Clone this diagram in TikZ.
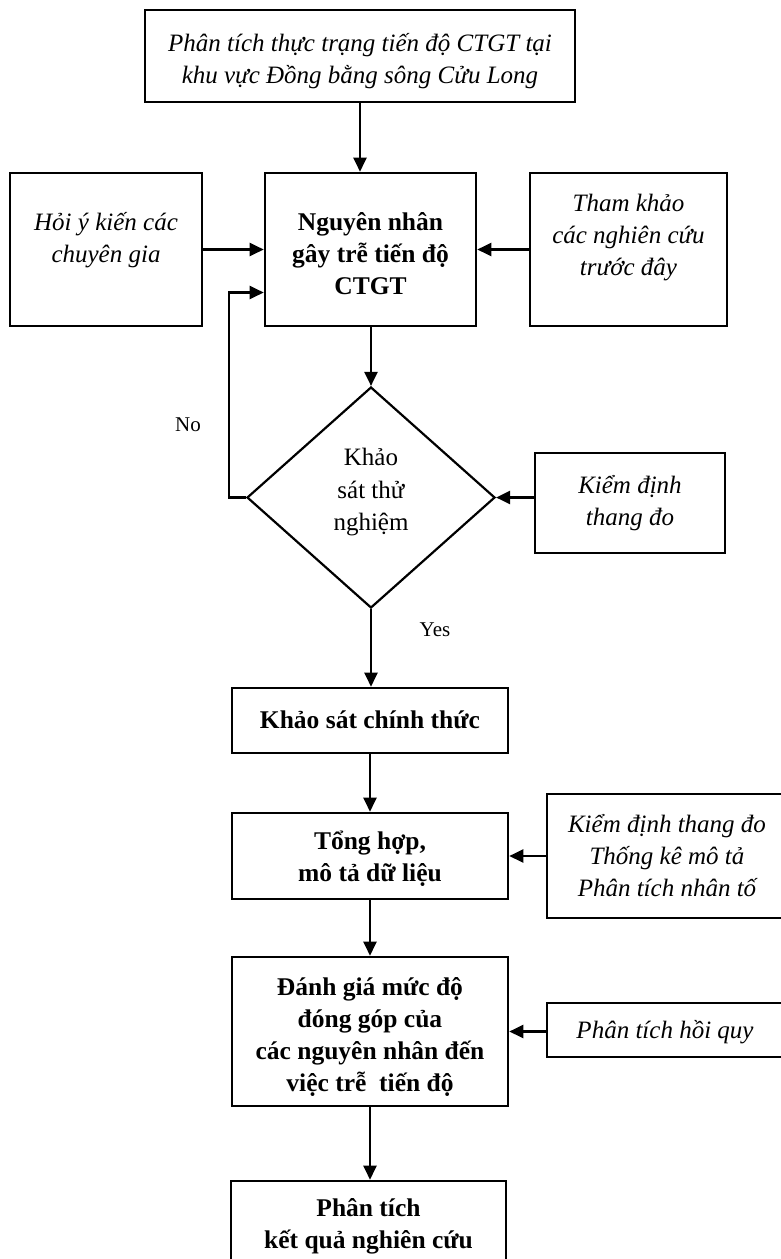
\documentclass[tikz,border=0pt]{standalone}
\usepackage{fontspec}
\setmainfont{Liberation Serif}
\usetikzlibrary{arrows.meta,shapes.geometric,calc}
\begin{document}
\begin{tikzpicture}[x=1pt,y=-1pt,
  box/.style={draw,line width=2.6pt,inner sep=0pt,align=center},
  itxt/.style={font=\fontsize{25}{32}\selectfont\itshape,align=center},
  btxt/.style={font=\fontsize{25.5}{32}\selectfont\bfseries,align=center},
  rtxt/.style={font=\fontsize{25}{32.5}\selectfont},
  arr/.style={line width=2.2pt,-{Triangle[length=14pt,width=13pt]}},
  lbl/.style={font=\fontsize{21}{24}\selectfont,inner sep=0pt}]
\useasboundingbox (0,0) rectangle (781,1259);
\clip (0,0) rectangle (781,1259);
\fill[white] (0,0) rectangle (781,1259);

\node[box,minimum width=430pt,minimum height=92pt,
  label={[itxt,yshift=-5pt]center:Phân tích thực trạng tiến độ CTGT tại\\khu vực Đồng bằng sông Cửu Long}] (top) at (360,56) {};
\node[box,minimum width=192pt,minimum height=153pt,
  label={[itxt,yshift=9pt]center:Hỏi ý kiến các\\chuyên gia}] (exp) at (106,249.5) {};
\node[box,minimum width=211pt,minimum height=153pt,
  label={[btxt,yshift=-4pt]center:Nguyên nhân\\gây trễ tiến độ\\CTGT}] (cause) at (370.5,249.5) {};
\node[box,minimum width=197pt,minimum height=153pt,
  label={[itxt,yshift=12pt]center:Tham khảo\\các nghiên cứu\\trước đây}] (lit) at (628.5,249.5) {};
\node[draw,line width=2.2pt,diamond,inner sep=0pt,minimum width=248pt,minimum height=221pt,
  label={[rtxt,align=center,yshift=5pt]center:Khảo\\sát thử\\nghiệm}] (dia) at (371,497.5) {};
\node[box,minimum width=190pt,minimum height=100pt,
  label={[itxt]center:Kiểm định\\thang đo}] (scale) at (630,503) {};
\node[box,minimum width=276pt,minimum height=65pt,
  label={[btxt,yshift=1pt]center:Khảo sát chính thức}] (formal) at (370,720.5) {};
\node[box,minimum width=276pt,minimum height=86pt,
  label={[btxt,yshift=-3pt]center:Tổng hợp,\\mô tả dữ liệu}] (sum) at (370,856) {};
\node[box,minimum width=240pt,minimum height=124pt,
  label={[itxt]center:Kiểm định thang đo\\Thống kê mô tả\\Phân tích nhân tố}] (stats) at (667,856) {};
\node[box,minimum width=276pt,minimum height=149pt,
  label={[btxt,yshift=-5pt]center:Đánh giá mức độ\\đóng góp của\\các nguyên nhân đến\\việc trễ~ tiến độ}] (eval) at (370,1031.5) {};
\node[box,minimum width=240pt,minimum height=54pt,
  label={[itxt,xshift=-2pt,yshift=-2pt]center:Phân tích hồi quy}] (reg) at (667,1030) {};
\node[box,minimum width=275pt,minimum height=89pt,
  label={[btxt,yshift=-1pt]center:Phân tích\\kết quả nghiên cứu}] (res) at (368.5,1225.5) {};

\node[lbl] (no) at (188,425) {No};
\node[lbl] (yes) at (435,630) {Yes};

\draw[arr] (top.south) -- (top.south |- cause.north);
\draw[arr] (exp.east) -- (cause.west);
\draw[arr] (lit.west) -- (cause.east);
\draw[arr] (cause.south -| dia.north) -- (dia.north);
\draw[arr] (dia.west) -- ++(-17,0) |- ($(cause.west)+(0,43)$);
\draw[arr] (scale.west |- dia.east) -- (dia.east);
\draw[arr] (dia.south) -- (dia.south |- formal.north);
\draw[arr] (formal.south) -- (sum.north);
\draw[arr] (stats.west |- sum.east) -- (sum.east);
\draw[arr] (sum.south) -- (eval.north);
\draw[arr] (reg.west |- eval.east) -- (eval.east);
\draw[arr] (eval.south) -- (eval.south |- res.north);
\end{tikzpicture}
\end{document}
